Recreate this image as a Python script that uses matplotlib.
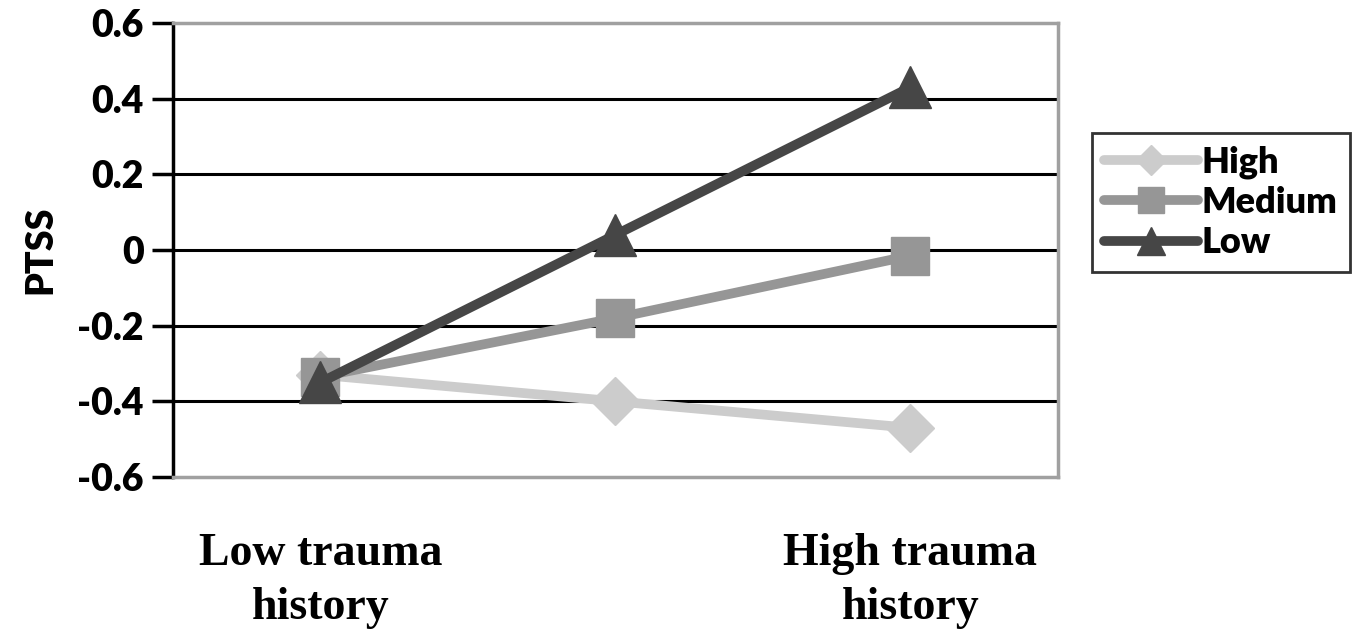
import matplotlib.pyplot as plt

categories = ["Low trauma\nhistory", "", "High trauma\nhistory"]
high = [-0.33, -0.40, -0.47]
medium = [-0.335, -0.18, -0.015]
low = [-0.35, 0.04, 0.43]
yticks = [-0.6, -0.4, -0.2, 0, 0.2, 0.4, 0.6]
ytick_labels = ["-0.6", "-0.4", "-0.2", "0", "0.2", "0.4", "0.6"]


def main():
    fig = plt.figure(figsize=(13.63, 6.35), dpi=100)
    ax = fig.add_axes([0.1269, 0.2488, 0.6493, 0.715])

    x = range(len(categories))
    ax.plot(x, high, color="#cccccc", lw=7, marker="D", ms=24, label="High", solid_capstyle="round")
    ax.plot(x, medium, color="#969696", lw=7, marker="s", ms=28, label="Medium", solid_capstyle="round")
    ax.plot(x, low, color="#464646", lw=7, marker="^", ms=30, label="Low", solid_capstyle="round")

    ax.set_xlim(-0.5, 2.5)
    ax.set_ylim(-0.6, 0.6)
    ax.set_yticks(yticks)
    ax.set_yticklabels(ytick_labels, fontsize=27, fontweight="heavy", family="Lato")
    ax.set_xticks(list(x))
    ax.set_xticklabels(categories, fontsize=33, fontweight="bold", family="Liberation Serif",
                       linespacing=1.4)
    ax.tick_params(axis="x", length=0, pad=40)
    ax.tick_params(axis="y", length=15, width=2.5, color="black", pad=6)

    for v in [-0.4, -0.2, 0, 0.2, 0.4]:
        ax.axhline(v, color="black", lw=2.2, zorder=0)

    for s in ["top", "right", "bottom"]:
        ax.spines[s].set_color("#a0a0a0")
        ax.spines[s].set_linewidth(2.5)
    ax.spines["left"].set_color("black")
    ax.spines["left"].set_linewidth(2.5)

    ax.set_ylabel("PTSS", fontsize=27, fontweight="heavy", family="Lato", labelpad=14)

    leg = ax.legend(loc="center left", bbox_to_anchor=(1.038, 0.605), frameon=True, fancybox=False,
                    prop={"family": "Lato", "weight": "heavy", "size": 26},
                    handlelength=2.6, handletextpad=0.1, labelspacing=0.2,
                    borderpad=0.35, borderaxespad=0, markerscale=0.65)
    leg.get_frame().set_edgecolor("black")
    leg.get_frame().set_linewidth(2)

    fig.savefig("out.png", dpi=100)


if __name__ == '__main__':
    main()
